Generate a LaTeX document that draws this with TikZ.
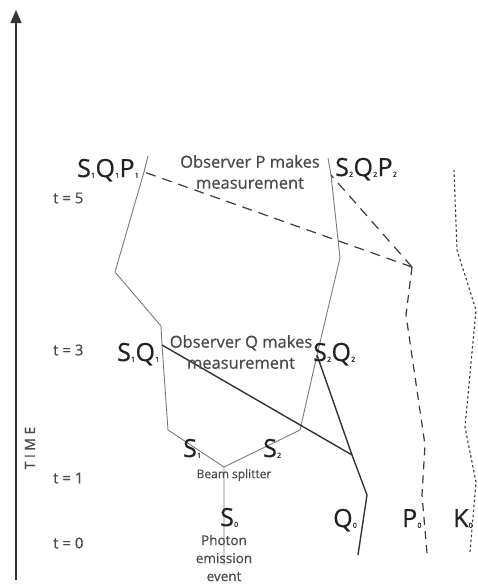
\documentclass[tikz,border=0pt]{standalone}
\usepackage{fontspec}
\setmainfont[FakeBold=0.6]{Open Sans}
\usetikzlibrary{arrows.meta}
\definecolor{lblcol}{HTML}{222222}
\definecolor{txtcol}{HTML}{4A4A4A}
\definecolor{spath}{HTML}{7A7A7A}
\definecolor{qpath}{HTML}{333333}
\definecolor{ppath}{HTML}{3C3C3C}
\newcommand\subx[1]{\kern0.2pt{\fontsize{7}{7}\selectfont\raisebox{-0.8pt}{#1}}\kern0.4pt}
\newcommand\heavy{\addfontfeatures{FakeBold=0.6}}
\begin{document}
\begin{tikzpicture}[x=1pt,y=-1pt,
  biglbl/.style={text=lblcol,font=\fontsize{25}{25}\selectfont\heavy,inner sep=0pt,anchor=base west},
  obstxt/.style={text=txtcol,font=\fontsize{16.5}{21}\selectfont\heavy,align=center,inner sep=0pt},
  tlbl/.style={text=txtcol,font=\fontsize{15}{15}\selectfont\heavy,inner sep=0pt,anchor=west},
  smalltxt/.style={text=txtcol,font=\fontsize{12}{12}\selectfont\heavy,inner sep=0pt},
  phtxt/.style={text=txtcol,font=\fontsize{13.5}{18}\selectfont\heavy,align=center,inner sep=0pt},
  sline/.style={draw=spath,line width=0.9pt,line join=round},
  qline/.style={draw=qpath,line width=1.4pt,line join=round},
  pline/.style={draw=ppath,line width=1.2pt,dash pattern=on 8pt off 6pt},
  pmline/.style={draw=ppath,line width=1.2pt,dash pattern=on 10pt off 7pt},
  kline/.style={draw=ppath,line width=1.1pt,dash pattern=on 2.5pt off 2.5pt},
  axisline/.style={draw=qpath,line width=1.2pt,-{Triangle[length=13pt,width=11pt]}}
]
\useasboundingbox (0,0) rectangle (478,584);
% coordinates
\coordinate (ax0) at (16,580);
\coordinate (ax1) at (16,10);
\coordinate (src) at (224,565);
\coordinate (bs) at (224,467);
\coordinate (a1) at (168,430);
\coordinate (sq1) at (162,345);
\coordinate (a2) at (161,326);
\coordinate (a3) at (115,272);
\coordinate (sqp1) at (144,172);
\coordinate (a4) at (148,156);
\coordinate (b1) at (300,430);
\coordinate (sq2) at (317,355);
\coordinate (b2) at (340,258);
\coordinate (sqp2) at (331,175);
\coordinate (b3) at (328,158);
\coordinate (q0) at (358,555);
\coordinate (q1) at (367,495);
\coordinate (q2) at (352,455);
\coordinate (p0) at (427,553);
\coordinate (p1) at (422,495);
\coordinate (p2) at (425,445);
\coordinate (p3) at (406,315);
\coordinate (p4) at (412,267);
\coordinate (k0) at (470,552);
\coordinate (k1) at (476,482);
\coordinate (k2) at (465,427);
\coordinate (k3) at (476,310);
\coordinate (k4) at (457,250);
\coordinate (k5) at (454,170);
% time axis
\draw[axisline] (ax0) -- (ax1);
% photon paths
\draw[sline] (src) -- (bs) -- (a1) -- (sq1) -- (a2) -- (a3) -- (sqp1) -- (a4);
\draw[sline] (bs) -- (b1) -- (sq2) -- (b2) -- (sqp2) -- (b3);
% observer Q
\draw[qline] (q0) -- (q1) -- (q2) -- (sq1);
\draw[qline] (q2) -- (sq2);
% observer P
\draw[pline] (p0) -- (p1) -- (p2) -- (p3) -- (p4);
\draw[pmline] (p4) -- (sqp1);
\draw[pmline] (p4) -- (sqp2);
% K
\draw[kline] (k0) -- (k1) -- (k2) -- (k3) -- (k4) -- (k5);
% labels
\node[rotate=90,text=txtcol,font=\fontsize{14}{14}\selectfont\addfontfeatures{LetterSpace=25}] (time) at (30,448) {TIME};
\node[tlbl] (t5) at (53,198) {t = 5};
\node[tlbl] (t3) at (53,350) {t = 3};
\node[tlbl] (t1) at (53,478) {t = 1};
\node[tlbl] (t0) at (53,543) {t = 0};
\node[biglbl] (L1) at (77,177) {S\subx1Q\subx1P\subx1};
\node[biglbl] (L2) at (335,176) {S\subx2Q\subx2P\subx2};
\node[biglbl] (L3) at (117,361) {S\subx1Q\subx1};
\node[biglbl] (L4) at (313,361) {S\subx2Q\subx2};
\node[biglbl] (L5) at (183,457) {S\subx1};
\node[biglbl] (L6) at (263,457) {S\subx2};
\node[biglbl] (L7) at (220,526) {S\subx0};
\node[biglbl] (L8) at (333,527) {Q\subx0};
\node[biglbl] (L9) at (402,527) {P\subx0};
\node[biglbl] (L10) at (453,527) {K\subx0};
\node[obstxt] (obsP) at (250,172) {Observer P makes\\measurement};
\node[obstxt] (obsQ) at (241,352) {Observer Q makes\\measurement};
\node[smalltxt] (beam) at (234,475) {Beam splitter};
\node[phtxt] (photon) at (224,558) {Photon\\emission\\event};
\end{tikzpicture}
\end{document}
